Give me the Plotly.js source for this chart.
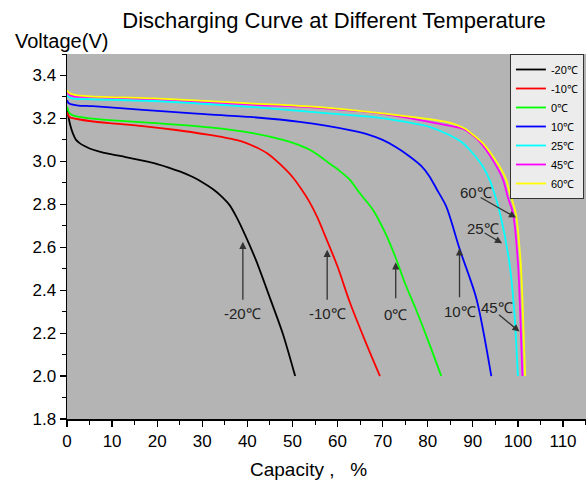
<!DOCTYPE html>
<html><head><meta charset="utf-8">
<script src="https://cdn.plot.ly/plotly-3.0.1.min.js"></script>
<style>html,body{margin:0;padding:0;background:#fff}#chart{width:587px;height:482px}</style>
</head><body><div id="chart"></div>
<script>
const seriesNames = ["-20℃","-10℃","0℃","10℃","25℃","45℃","60℃"];
const seriesColors = ["#000000","#ff0000","#00ff00","#0000ff","#00ffff","#ff00ff","#ffff00"];

const capM20 = [0,0.3,0.7,1.3,2,2.8,4,5,7,9.4,13,16.8,20,22.7,25,27.9,30,32.4,34.2,36.1,37.6,39,40.5,42,44.9,47.9,50.6];
const voltM20 = [3.25,3.21,3.17,3.13,3.1,3.085,3.07,3.06,3.047,3.035,3.02,3.003,2.987,2.97,2.953,2.927,2.903,2.87,2.838,2.795,2.74,2.68,2.61,2.535,2.37,2.195,2.0];

const capM10 = [0,0.3,0.6,1.5,2.8,5,9.4,16.8,24.2,31.6,35,37.5,39.8,42.3,44.9,47.5,50.1,52,53.8,55.5,57.5,60,62.7,66,69.4];
const voltM10 = [3.23,3.215,3.205,3.2,3.195,3.188,3.178,3.164,3.146,3.123,3.111,3.1,3.085,3.062,3.03,2.982,2.925,2.87,2.81,2.74,2.64,2.51,2.345,2.17,2.0];

const cap0 = [0,0.3,0.6,1.5,2.8,5,9.4,20.5,31.6,40.5,47.9,50.9,53.8,56,58.2,60.5,62.7,65,67.8,70.5,73,75,77.4,80,83];
const volt0 = [3.254,3.235,3.223,3.213,3.207,3.2,3.192,3.177,3.158,3.134,3.1,3.08,3.054,3.025,2.99,2.955,2.915,2.85,2.776,2.67,2.545,2.43,2.31,2.17,2.0];

const cap10 = [0,0.3,1,2.5,5.7,16.8,27.9,40.5,51.6,62.7,66.5,70,73,76,78.5,80.4,82,84.1,87.1,90.8,94.1];
const volt10 = [3.285,3.272,3.265,3.26,3.257,3.24,3.223,3.207,3.184,3.146,3.127,3.1,3.066,3.023,2.98,2.93,2.87,2.79,2.59,2.36,2.0];

const cap25 = [0,0.5,1.5,5.7,20.5,40.5,62.7,69.3,77.4,80.4,84.8,87.5,89.3,92.2,93.7,94.8,96,98.1,99.2,100];
const volt25 = [3.308,3.298,3.292,3.289,3.28,3.254,3.215,3.203,3.175,3.161,3.123,3.09,3.054,2.977,2.915,2.85,2.76,2.53,2.3,2.0];

const cap45 = [0,0.5,1.5,5,20,40,55,69.3,80.4,85,88.1,90,91.5,94.4,96.7,97.8,98.9,100,100.5,101];
const volt45 = [3.325,3.31,3.303,3.3,3.29,3.265,3.25,3.223,3.184,3.165,3.149,3.12,3.092,3.007,2.915,2.83,2.76,2.53,2.3,2.0];

const cap60 = [0,0.5,2,5,20.5,40.5,55.3,70,84.8,88.1,90,92.2,95.2,97.4,98.1,99.5,100.6,101.1,101.6];
const volt60 = [3.33,3.318,3.308,3.303,3.292,3.27,3.254,3.223,3.18,3.154,3.125,3.085,3.0,2.915,2.86,2.76,2.53,2.3,2.0];

const xTicks = [0,10,20,30,40,50,60,70,80,90,100,110];
const yTicks = [1.8,2.0,2.2,2.4,2.6,2.8,3.0,3.2,3.4];

// arrow labels and their arrow tips (data coordinates)
const arrowLabels = ["-20℃","-10℃","0℃","10℃","60℃","25℃","45℃"];
const arrowTipX = [39.0,57.7,72.9,87.05,99.6,96.5,100.35];
const arrowTipY = [2.625,2.588,2.530,2.595,2.738,2.619,2.207];

const caps = [capM20,capM10,cap0,cap10,cap25,cap45,cap60];
const volts = [voltM20,voltM10,volt0,volt10,volt25,volt45,volt60];

const FONT = 'Arial, "Liberation Sans", sans-serif';

const traces = seriesNames.map((n,i)=>({
  x: caps[i], y: volts[i], name: n, type:'scatter', mode:'lines',
  line:{color:seriesColors[i], width:1.8, shape:'spline', smoothing:0.8}
}));

// pixel offsets of arrow tails and label centres from the tips
const arrowOff = [[0,60],[0,52],[0,38],[0,51],[-37,-21],[-19,-11],[-22,-18]];
const labelOff = [[0,72],[0,64],[0,52],[0,63],[-40,-25],[-19,-15],[-22,-24]];

const annotations = [];
arrowLabels.forEach((t,i)=>{
  annotations.push({x:arrowTipX[i], y:arrowTipY[i], xref:'x', yref:'y', text:' ',
    font:{size:1}, showarrow:true, arrowhead:2, arrowsize:1.1, arrowwidth:1.3, arrowcolor:'#333',
    ax:arrowOff[i][0], ay:arrowOff[i][1], standoff:0});
  annotations.push({x:arrowTipX[i], y:arrowTipY[i], xref:'x', yref:'y', text:t,
    font:{family:FONT, size:15, color:'#222'},
    showarrow:true, arrowcolor:'rgba(0,0,0,0)', arrowwidth:0.1, arrowhead:0,
    ax:labelOff[i][0], ay:labelOff[i][1]});
});
annotations.push({x:-0.104, y:1.036, xref:'paper', yref:'paper', xanchor:'left', yanchor:'middle',
  text:'Voltage(V)', showarrow:false,
  font:{family:FONT, size:20, color:'#000'}});
annotations.push({x:0.466, y:-0.138, xref:'paper', yref:'paper', xanchor:'center', yanchor:'middle',
  text:'Capacity\u00a0,\u00a0\u00a0\u00a0%', showarrow:false,
  font:{family:FONT, size:19, color:'#000'}});

const layout = {
  width:587, height:482,
  margin:{l:67, r:1, t:54, b:63, pad:0},
  paper_bgcolor:'#ffffff', plot_bgcolor:'#b4b4b4',
  title:{text:'Discharging Curve at Different Temperature', x:0.569, xref:'container', xanchor:'center',
    y:0.958, yref:'container', yanchor:'middle',
    font:{family:FONT, size:22, color:'#000'}},
  font:{family:FONT, size:17, color:'#000'},
  xaxis:{range:[0,115.1], tickvals:xTicks, ticktext:xTicks.map(String), ticks:'outside', ticklen:6, tickwidth:1.2,
    tickcolor:'#000', showline:true, linecolor:'#000', linewidth:1.5, showgrid:false, zeroline:false,
    minor:{dtick:5, ticks:'outside', ticklen:4, tickcolor:'#000', tickwidth:1, showgrid:false},
    tickfont:{size:17}, fixedrange:true},
  yaxis:{range:[1.8,3.5], tickvals:yTicks, ticktext:yTicks.map(v=>v.toFixed(1)), ticks:'outside', ticklen:6, tickwidth:1.2,
    tickcolor:'#000', showline:true, linecolor:'#000', linewidth:1.5, showgrid:false, zeroline:false,
    minor:{dtick:0.1, ticks:'outside', ticklen:4, tickcolor:'#000', tickwidth:1, showgrid:false},
    tickfont:{size:17}, fixedrange:true},
  legend:{x:0.996, xanchor:'right', y:1, yanchor:'top', bgcolor:'#ececec', bordercolor:'#333', borderwidth:1,
    font:{family:FONT, size:11, color:'#000'}, itemwidth:30, tracegroupgap:0},
  showlegend:true,
  annotations: annotations
};
Plotly.newPlot('chart', traces, layout, {displayModeBar:false, staticPlot:true});
</script></body></html>
